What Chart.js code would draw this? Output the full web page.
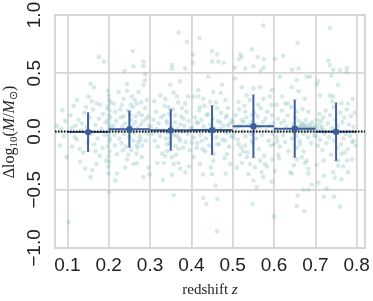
<!DOCTYPE html>
<html>
<head>
<meta charset="utf-8">
<script src="https://cdn.jsdelivr.net/npm/chart.js@4.4.1/dist/chart.umd.min.js"></script>
<style>
  html, body { margin: 0; padding: 0; background: #fff; }
  #wrap { width: 373px; height: 301px; }
</style>
</head>
<body>
<div id="wrap"><canvas id="chart" width="373" height="301"></canvas></div>
<script>
// axis ranges and ticks
const xMin = 0.07, xMax = 0.82;
const yMin = -1, yMax = 1;
const xTickValues = [0.1, 0.2, 0.3, 0.4, 0.5, 0.6, 0.7, 0.8];
const yTickValues = [-1, -0.5, 0, 0.5, 1];

// binned medians and scatter
const binEdges = [0.1, 0.2, 0.3, 0.4, 0.5, 0.6, 0.7, 0.8];
const binCenters = [0.15, 0.25, 0.35, 0.45, 0.55, 0.65, 0.75];
const binMedian = [-0.005, 0.02, 0.01, 0.012, 0.046, 0.024, -0.002];
const binLow = [-0.173, -0.138, -0.164, -0.2, -0.226, -0.224, -0.252];
const binHigh = [0.164, 0.178, 0.19, 0.224, 0.315, 0.272, 0.246];

// individual galaxies [z, dlogM]
const scatterPoints = [
  [0.075,0.05],[0.082,-0.12],[0.088,0.18],[0.091,-0.04],[0.095,0.09],[0.098,-0.22],[0.085,0.02],[0.103,-0.78],
  [0.107,0.14],[0.111,0.03],[0.111,-0.13],[0.115,0.22],[0.118,-0.05],[0.123,0.27],[0.123,-0.07],[0.127,0.10],
  [0.131,-0.26],[0.133,0.01],[0.135,0.07],[0.138,-0.18],[0.141,0.16],[0.143,-0.32],[0.146,0.04],[0.149,-0.09],
  [0.151,0.30],[0.153,0.12],[0.156,0.41],[0.156,-0.39],[0.158,-0.02],[0.16,-0.33],[0.162,0.19],[0.164,0.38],
  [0.165,-0.11],[0.168,0.055],[0.168,-0.17],[0.171,0.24],[0.173,-0.06],[0.176,0.64],[0.176,0.11],[0.178,-0.21],
  [0.18,0.23],[0.182,0.02],[0.185,-0.14],[0.186,0.15],[0.188,0.60],[0.19,-0.03],[0.192,0.08],[0.194,-0.25],
  [0.145,0.21],[0.129,-0.15],[0.119,0.05],[0.159,0.26],[0.17,-0.28],
  [0.198,0.35],[0.2,0.31],[0.201,0.27],[0.199,0.22],[0.202,0.18],[0.2,0.14],[0.198,0.10],[0.201,0.07],
  [0.2,0.04],[0.202,0.01],[0.199,-0.02],[0.201,-0.05],[0.2,-0.09],[0.198,-0.13],[0.202,-0.17],[0.2,-0.21],
  [0.201,-0.26],[0.199,-0.30],[0.2,-0.36],[0.201,-0.52],[0.204,0.12],[0.203,-0.07],[0.197,0.20],[0.205,0.03],[0.203,0.25],
  [0.224,0.34],[0.244,0.41],[0.244,0.35],[0.256,0.30],[0.236,0.28],[0.232,0.23],[0.216,0.17],[0.236,0.13],
  [0.252,0.14],[0.264,0.08],[0.28,0.14],[0.288,0.20],[0.292,0.27],[0.284,0.40],[0.288,0.44],[0.272,0.34],
  [0.268,0.24],[0.296,0.13],[0.258,0.69],[0.26,0.56],[0.238,0.52],[0.284,0.60],[0.284,0.56],[0.288,0.49],
  [0.22,-0.195],[0.22,-0.36],[0.216,-0.42],[0.24,-0.31],[0.244,-0.24],[0.26,-0.28],[0.268,-0.27],[0.28,-0.22],
  [0.296,-0.31],[0.299,-0.37],[0.284,-0.39],[0.268,-0.12],[0.272,-0.09],[0.276,-0.07],[0.234,-0.16],[0.26,-0.08],
  [0.211,0.05],[0.214,-0.03],[0.218,0.09],[0.222,0.01],[0.226,-0.06],[0.229,0.12],[0.231,-0.1],[0.233,0.04],
  [0.237,-0.02],[0.24,0.07],[0.242,-0.13],[0.246,0.18],[0.248,0.02],[0.25,-0.05],[0.253,0.1],[0.255,-0.16],
  [0.257,0.05],[0.259,0.21],[0.262,-0.01],[0.265,0.13],[0.267,-0.19],[0.27,0.03],[0.273,0.16],[0.275,-0.04],
  [0.278,0.06],[0.281,-0.12],[0.283,0.09],[0.286,0.0],[0.289,-0.08],[0.291,0.11],[0.294,-0.02],[0.297,0.05],
  [0.212,0.24],[0.228,0.19],[0.247,-0.2],[0.263,0.27],[0.279,0.25],[0.215,-0.12],[0.254,0.23],[0.27,-0.14],
  [0.325,0.31],[0.337,0.28],[0.349,0.40],[0.373,0.43],[0.357,0.335],[0.365,0.30],[0.385,0.24],[0.345,0.21],
  [0.377,0.20],[0.333,0.14],[0.361,0.14],[0.381,0.11],[0.341,0.07],[0.373,0.06],[0.369,0.85],[0.389,0.77],
  [0.353,0.57],[0.353,0.54],[0.385,0.54],
  [0.331,-0.415],[0.333,-0.27],[0.337,-0.21],[0.341,-0.17],[0.353,-0.22],[0.357,-0.28],[0.369,-0.27],[0.373,-0.32],
  [0.385,-0.35],[0.361,-0.125],[0.373,-0.08],[0.349,-0.055],[0.365,-0.04],[0.341,-0.11],[0.369,-0.15],[0.353,-0.37],[0.357,-0.545],
  [0.302,0.04],[0.305,-0.02],[0.308,0.1],[0.311,-0.08],[0.314,0.17],[0.316,0.02],[0.319,-0.13],[0.321,0.07],
  [0.324,-0.04],[0.327,0.12],[0.329,-0.19],[0.332,0.01],[0.335,0.22],[0.338,-0.06],[0.34,0.09],[0.343,-0.01],
  [0.346,0.15],[0.348,-0.1],[0.351,0.04],[0.355,0.19],[0.358,-0.03],[0.36,0.08],[0.363,-0.2],[0.366,0.02],
  [0.368,0.25],[0.371,-0.06],[0.375,0.13],[0.378,0.0],[0.38,-0.14],[0.383,0.05],[0.386,-0.09],[0.388,0.17],
  [0.391,-0.02],[0.393,0.09],[0.396,-0.16],[0.398,0.03],[0.31,0.26],[0.318,-0.27],[0.392,0.3],[0.395,-0.3],
  [0.42,0.80],[0.404,0.66],[0.404,0.59],[0.45,0.69],[0.462,0.66],[0.45,0.60],[0.465,0.60],[0.478,0.59],
  [0.429,-0.57],[0.436,-0.62],[0.463,-0.58],[0.462,-0.857],
  [0.405,0.30],[0.417,0.355],[0.429,0.28],[0.441,0.47],[0.453,0.34],[0.445,0.255],[0.474,0.40],[0.482,0.27],
  [0.421,0.21],[0.462,0.20],[0.486,0.14],[0.437,0.14],[0.413,0.08],[0.47,0.08],[0.488,0.05],
  [0.405,-0.22],[0.413,-0.14],[0.425,-0.08],[0.433,-0.17],[0.453,-0.25],[0.462,-0.11],[0.482,-0.08],[0.486,-0.195],
  [0.494,-0.28],[0.421,-0.28],[0.428,-0.37],[0.45,-0.365],[0.458,-0.465],[0.483,-0.36],[0.401,-0.095],
  [0.402,0.03],[0.406,-0.05],[0.409,0.12],[0.411,0.0],[0.414,-0.1],[0.416,0.07],[0.419,0.18],[0.422,-0.03],
  [0.424,0.1],[0.427,-0.15],[0.43,0.04],[0.432,0.22],[0.435,-0.06],[0.438,0.01],[0.44,0.15],[0.443,-0.12],
  [0.446,0.06],[0.448,-0.02],[0.451,0.11],[0.454,-0.19],[0.456,0.03],[0.459,0.25],[0.461,-0.05],[0.464,0.09],
  [0.467,-0.11],[0.469,0.02],[0.472,0.16],[0.475,-0.07],[0.477,0.05],[0.48,-0.23],[0.483,0.12],[0.485,-0.01],
  [0.488,0.2],[0.491,-0.13],[0.493,0.07],[0.496,-0.04],[0.498,0.1],[0.417,0.3],[0.447,-0.31],[0.471,0.33],
  [0.518,0.66],[0.522,0.64],[0.515,0.62],[0.546,0.705],[0.56,0.64],[0.574,0.91],[0.55,0.56],[0.53,0.54],
  [0.568,0.52],[0.505,0.55],[0.575,0.62],[0.575,0.55],[0.548,-0.62],
  [0.502,-0.05],[0.514,-0.11],[0.526,-0.17],[0.534,-0.22],[0.542,-0.28],[0.538,-0.365],[0.554,-0.31],[0.566,-0.25],
  [0.57,-0.35],[0.55,-0.42],[0.558,-0.48],[0.51,-0.31],[0.522,-0.27],[0.574,-0.39],[0.53,-0.12],[0.546,-0.08],[0.518,-0.2],
  [0.506,0.455],[0.522,0.38],[0.534,0.31],[0.55,0.37],[0.566,0.38],[0.53,0.17],[0.514,0.255],[0.546,0.14],
  [0.562,0.23],[0.574,0.28],[0.526,0.08],[0.558,0.06],
  [0.501,0.08],[0.504,-0.01],[0.507,0.14],[0.509,0.03],[0.512,-0.07],[0.515,0.19],[0.517,0.05],[0.52,-0.14],
  [0.523,0.1],[0.525,0.0],[0.528,0.22],[0.531,-0.04],[0.533,0.12],[0.536,-0.18],[0.539,0.06],[0.541,0.27],
  [0.544,-0.02],[0.547,0.09],[0.549,-0.1],[0.552,0.16],[0.555,0.02],[0.557,-0.06],[0.56,0.13],[0.563,-0.15],
  [0.565,0.04],[0.568,0.2],[0.571,-0.03],[0.573,0.08],[0.576,-0.21],[0.579,0.11],[0.581,0.01],[0.584,0.17],
  [0.587,-0.08],[0.589,0.05],[0.592,-0.12],[0.595,0.14],[0.597,-0.02],[0.583,-0.3],[0.59,0.3],[0.599,0.07],
  [0.602,0.625],[0.622,0.65],[0.657,0.76],[0.643,0.53],[0.659,0.54],[0.614,0.47],[0.655,0.44],[0.679,0.47],
  [0.687,0.47],[0.643,0.38],[0.659,0.345],[0.627,0.24],[0.633,0.24],[0.675,0.28],[0.606,0.23],[0.655,0.17],
  [0.683,0.17],[0.594,0.23],[0.595,0.355],
  [0.594,-0.43],[0.578,-0.28],[0.602,-0.34],[0.596,-0.24],[0.61,-0.2],[0.612,-0.23],[0.608,-0.085],[0.6,-0.11],
  [0.639,-0.35],[0.643,-0.36],[0.655,-0.24],[0.667,-0.22],[0.675,-0.27],[0.679,-0.25],[0.683,-0.32],[0.683,-0.36],
  [0.671,-0.17],[0.655,-0.14],[0.663,-0.11],[0.657,-0.55],[0.655,-0.64],[0.673,-0.685],[0.683,-0.50],[0.671,-0.50],
  [0.691,-0.457],[0.60,-0.73],
  [0.603,0.02],[0.606,-0.05],[0.609,0.11],[0.611,0.0],[0.614,-0.13],[0.617,0.07],[0.619,0.18],[0.622,-0.03],
  [0.625,0.09],[0.627,-0.09],[0.63,0.04],[0.633,0.14],[0.635,-0.17],[0.638,0.01],[0.641,0.21],[0.643,-0.06],
  [0.646,0.06],[0.649,-0.01],[0.651,0.12],[0.654,-0.04],[0.657,0.03],[0.66,0.09],[0.662,-0.08],[0.665,0.05],
  [0.667,0.01],[0.67,0.07],[0.672,-0.02],[0.675,0.04],[0.677,0.1],[0.68,0.0],[0.682,-0.05],[0.685,0.06],
  [0.687,0.02],[0.69,-0.1],[0.692,0.08],[0.695,0.03],[0.697,-0.03],[0.62,0.3],[0.648,-0.29],[0.669,0.19],
  [0.66,0.04],[0.664,0.02],[0.668,0.06],[0.673,0.03],[0.678,0.05],[0.683,0.02],[0.688,0.04],[0.693,0.01],
  [0.698,0.05],[0.703,0.03],[0.708,0.06],[0.712,0.02],[0.716,0.04],[0.72,0.01],
  [0.735,0.89],[0.731,0.61],[0.735,0.57],[0.743,0.53],[0.759,0.525],[0.776,0.545],[0.776,0.51],[0.739,0.48],
  [0.755,0.40],[0.707,0.43],[0.703,0.40],[0.735,0.31],[0.743,0.30],[0.763,0.24],[0.779,0.24],[0.711,0.31],
  [0.72,-0.56],[0.745,-0.56],[0.76,-0.645],[0.727,-0.49],[0.72,-0.38],[0.707,-0.44],[0.743,-0.35],[0.747,-0.395],
  [0.763,-0.41],[0.779,-0.35],[0.767,-0.30],[0.755,-0.295],[0.776,-0.25],[0.788,-0.24],[0.72,-0.25],[0.703,-0.285],
  [0.763,-0.19],[0.771,-0.18],[0.792,-0.08],
  [0.701,-0.04],[0.704,0.1],[0.706,-0.12],[0.709,0.15],[0.711,-0.07],[0.714,0.09],[0.717,-0.16],[0.719,0.12],
  [0.722,-0.02],[0.725,0.18],[0.727,-0.1],[0.73,0.07],[0.733,-0.05],[0.735,0.14],[0.738,-0.2],[0.741,0.03],
  [0.744,0.21],[0.746,-0.08],[0.749,0.1],[0.752,-0.14],[0.754,0.05],[0.757,-0.01],[0.76,0.16],[0.762,-0.11],
  [0.765,0.08],[0.768,-0.06],[0.77,0.12],[0.773,-0.02],[0.776,0.19],[0.778,-0.15],[0.781,0.06],[0.784,-0.04],
  [0.786,0.13],[0.789,-0.09],[0.792,0.04],[0.795,0.16],[0.797,-0.12],[0.74,0.26],[0.755,-0.25],[0.79,0.28]
];

const gridColor = '#d6d6d6';
const barColor = '#3b5e9c';
const tickFont = { family: 'Liberation Sans', size: 19 };
const tickColor = '#222';

// build line data with gaps between segments
const binLineData = [];
const errorBarData = [];
const capData = [];
binCenters.forEach((c, i) => {
    binLineData.push({ x: binEdges[i], y: binMedian[i] }, { x: binEdges[i + 1], y: binMedian[i] }, { x: binEdges[i + 1], y: null });
    errorBarData.push({ x: c, y: binLow[i] }, { x: c, y: binHigh[i] }, { x: c, y: null });
    [binLow[i], binHigh[i]].forEach(v => {
        capData.push({ x: c - 0.006, y: v }, { x: c + 0.006, y: v }, { x: c, y: null });
    });
});

function fmt(v) {
    return v.toFixed(1).replace('-', '\u2212');
}

function drawRich(ctx, parts, cx, cy, rotate) {
    ctx.save();
    ctx.translate(cx, cy);
    if (rotate) ctx.rotate(-Math.PI / 2);
    ctx.textAlign = 'left';
    ctx.textBaseline = 'alphabetic';
    ctx.fillStyle = '#222';
    let total = 0;
    parts.forEach(p => { ctx.font = p.font; p.w = ctx.measureText(p.text).width; total += p.w; });
    let x = -total / 2;
    parts.forEach(p => { ctx.font = p.font; ctx.fillText(p.text, x, p.dy || 0); x += p.w; });
    ctx.restore();
}

const decorPlugin = {
    id: 'decor',
    beforeDatasetsDraw(chart) {
        const { ctx, chartArea: a } = chart;
        ctx.save();
        ctx.strokeStyle = gridColor;
        ctx.lineWidth = 2;
        ctx.strokeRect(a.left, a.top, a.right - a.left, a.bottom - a.top);
        ctx.restore();
    },
    afterDraw(chart) {
        const ctx = chart.ctx;
        const y = chart.scales.y;
        // rotated y tick labels
        ctx.save();
        ctx.fillStyle = tickColor;
        ctx.font = tickFont.size + 'px ' + tickFont.family;
        ctx.textAlign = 'center';
        ctx.textBaseline = 'middle';
        y.ticks.forEach(t => {
            const py = y.getPixelForValue(t.value);
            ctx.save();
            ctx.translate(35, py);
            ctx.rotate(-Math.PI / 2);
            ctx.fillText(fmt(t.value), 0, 0);
            ctx.restore();
        });
        ctx.restore();

        const serif = 'px "Liberation Serif"';
        drawRich(ctx, [
            { text: 'Δlog', font: '16' + serif },
            { text: '10', font: '11' + serif, dy: 3 },
            { text: '(', font: '16' + serif },
            { text: 'M', font: 'italic 16' + serif },
            { text: '/', font: '16' + serif },
            { text: 'M', font: 'italic 16' + serif },
            { text: '⊙', font: '11' + serif, dy: 3 },
            { text: ')', font: '16' + serif }
        ], 14, 132, true);
        const a = chart.chartArea;
        drawRich(ctx, [
            { text: 'redshift ', font: '15' + serif },
            { text: 'z', font: 'italic 15' + serif }
        ], (a.left + a.right) / 2, 294, false);
    }
};

new Chart(document.getElementById('chart'), {
    type: 'scatter',
    data: {
        datasets: [
            {
                label: 'median',
                data: binCenters.map((c, i) => ({ x: c, y: binMedian[i] })),
                pointRadius: 3.2,
                pointBackgroundColor: barColor,
                pointBorderWidth: 0,
                order: 0
            },
            {
                label: 'zero',
                data: [{ x: xMin, y: 0 }, { x: xMax, y: 0 }],
                showLine: true,
                borderColor: '#111',
                borderWidth: 2,
                borderDash: [1.5, 1.5],
                pointRadius: 0,
                order: 1
            },
            {
                label: 'errors',
                data: errorBarData,
                showLine: true,
                borderColor: barColor,
                borderWidth: 2,
                pointRadius: 0,
                order: 2
            },
            {
                label: 'caps',
                data: capData,
                showLine: true,
                borderColor: 'rgba(190,190,190,0.7)',
                borderWidth: 1,
                pointRadius: 0,
                order: 3
            },
            {
                label: 'bins',
                data: binLineData,
                showLine: true,
                borderColor: barColor,
                borderWidth: 2,
                pointRadius: 0,
                order: 4
            },
            {
                label: 'galaxies',
                data: scatterPoints.map(p => ({ x: p[0], y: p[1] })),
                pointRadius: 2.3,
                pointBackgroundColor: 'rgba(105,172,172,0.27)',
                pointBorderWidth: 0,
                order: 5
            }
        ]
    },
    options: {
        responsive: false,
        animation: false,
        layout: { padding: { left: 0, right: 8, top: 15, bottom: 0 } },
        plugins: {
            legend: { display: false },
            tooltip: { enabled: false }
        },
        scales: {
            x: {
                type: 'linear',
                min: xMin,
                max: xMax,
                afterBuildTicks: s => { s.ticks = xTickValues.map(v => ({ value: v })); },
                afterFit: s => { s.height = 53; s.paddingLeft = 0; s.paddingRight = 0; },
                grid: { color: gridColor, lineWidth: 1.8, drawTicks: false },
                border: { display: false },
                ticks: {
                    padding: 6,
                    font: tickFont,
                    color: tickColor,
                    maxRotation: 0,
                    autoSkip: false,
                    callback: v => fmt(v)
                }
            },
            y: {
                type: 'linear',
                min: yMin,
                max: yMax,
                afterBuildTicks: s => { s.ticks = yTickValues.map(v => ({ value: v })); },
                afterFit: s => { s.width = 55; s.paddingTop = 0; s.paddingBottom = 0; },
                grid: { color: gridColor, lineWidth: 1.8, drawTicks: false },
                border: { display: false },
                ticks: { display: false }
            }
        }
    },
    plugins: [decorPlugin]
});
</script>
</body>
</html>
